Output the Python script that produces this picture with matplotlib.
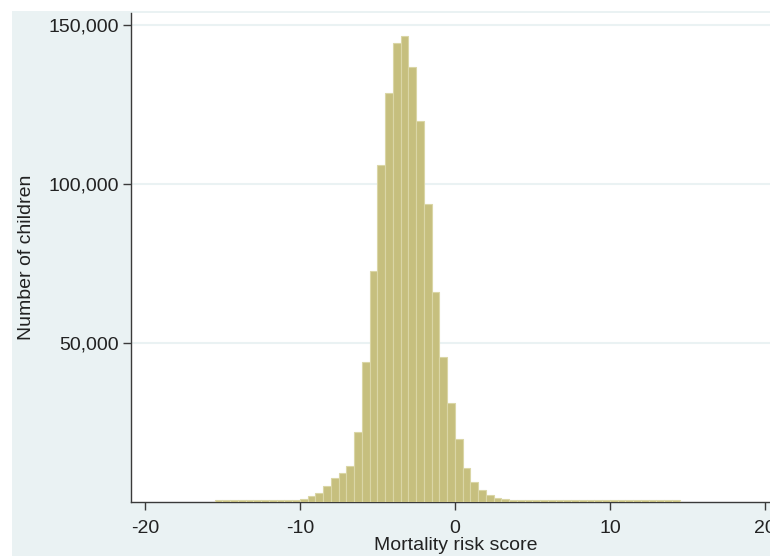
import matplotlib
matplotlib.use("Agg")
import matplotlib.pyplot as plt
from matplotlib.patches import Rectangle
from matplotlib.ticker import FuncFormatter

plt.rcParams['font.family'] = ['Liberation Sans', 'DejaVu Sans']
plt.rcParams['axes.unicode_minus'] = False

# Histogram data (bin width 0.5)
bin_start = -15.5
bin_width = 0.5
counts = [
    400, 400, 400, 400, 400, 400, 400, 400, 400, 400,   # -15.5 .. -11.0
    450,                                                  # -10.5
    850, 1600, 2800, 5000, 7500, 9100, 11300, 22000,      # -10.0 .. -6.5
    44000, 72600, 106000, 128600, 144400, 146600,         # -6.0 .. -3.5
    136800, 119800, 93700, 66000, 45600, 31100,           # -3.0 .. -0.5
    19800, 10700, 6000, 3500, 2200, 1200, 800,            # 0.0 .. 3.0
    500, 450, 400, 400, 400, 400, 400, 400, 400, 400,     # 3.5 .. 8.0
    400, 400, 400, 400, 400, 400, 400, 400, 400, 400, 400, 400,  # 8.5 .. 14.0
]
x_ticks = [-20, -10, 0, 10, 20]
y_ticks = [50000, 100000, 150000]
x_label = "Mortality risk score"
y_label = "Number of children"

edges = [bin_start + i * bin_width for i in range(len(counts))]

W, H = 770, 556
fig = plt.figure(figsize=(W / 100, H / 100), dpi=100)
fig.patch.set_facecolor('white')
bg = Rectangle((12 / W, 0), 1 - 12 / W, 1 - 11 / H,
               transform=fig.transFigure, facecolor='#eaf2f3',
               edgecolor='none', zorder=-10)
fig.patches.append(bg)

left, right, top, bottom = 131, 780.5, 12.5, 501.5
ax = fig.add_axes([left / W, 1 - bottom / H, (right - left) / W, (bottom - top) / H])
ax.set_zorder(5)
ax.set_facecolor('white')

ax.bar(edges, counts, width=bin_width, align='edge', color='#c6bf7e',
       edgecolor='#dad6a6', linewidth=0.8, zorder=3)

ax.set_xlim(-20.9, 21.0)
ax.set_ylim(0, 153900)
ax.set_xticks(x_ticks)
ax.set_yticks(y_ticks)
ax.yaxis.set_major_formatter(FuncFormatter(lambda v, p: f"{int(v):,}"))

ax.grid(axis='y', color='#eaf2f3', linewidth=1.5, zorder=0)
ax.grid(axis='x', visible=False)
ax.set_axisbelow(True)

for s in ['top', 'right']:
    ax.spines[s].set_visible(False)
for s in ['left', 'bottom']:
    ax.spines[s].set_color('#3a3a3a')
    ax.spines[s].set_linewidth(1.0)

ax.tick_params(axis='both', direction='out', length=5.5, width=1.0,
               color='#3a3a3a', labelsize=14, labelcolor='#222222')
ax.tick_params(axis='x', pad=8)
ax.tick_params(axis='y', pad=3.5)

ax.set_xlabel(x_label, fontsize=14, color='#222222')
ax.set_ylabel(y_label, fontsize=14, color='#222222')
ax.xaxis.set_label_coords(0.5, -0.073)
ax.yaxis.set_label_coords(-0.148, 0.5)

fig.savefig("out.png", dpi=100, facecolor=fig.get_facecolor())
